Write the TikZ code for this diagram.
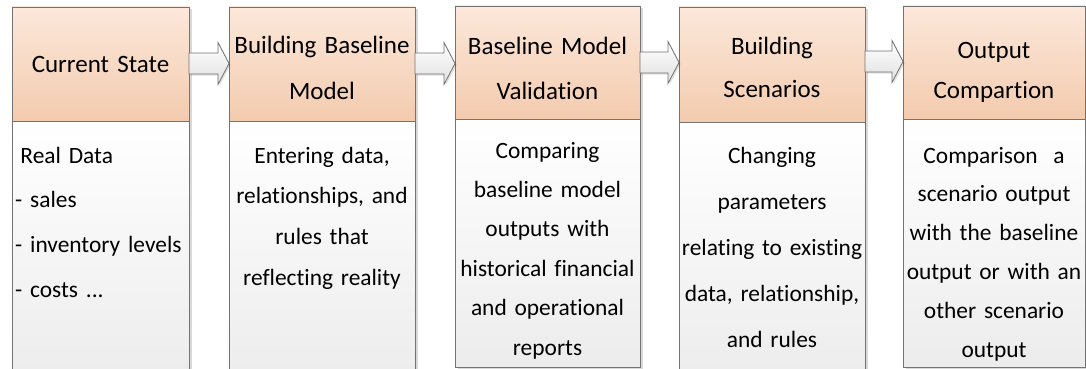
\documentclass[tikz,border=0pt]{standalone}
\usepackage{fontspec}
\setmainfont{Carlito}[Ligatures={NoCommon}, RawFeature={-liga;-clig;-dlig}]
\frenchspacing
\usetikzlibrary{calc,shadows}
\definecolor{hdrtop}{HTML}{FCE8DB}
\definecolor{hdrbot}{HTML}{F3CBAE}
\definecolor{bodbot}{HTML}{ECECEC}
\definecolor{edgegray}{HTML}{737373}
\definecolor{arrbot}{HTML}{E0E0E0}
\newcommand\blkarrow[3]{%
  \draw[blkarrow] ($(#1.east)+(0,#3-10.5)$) -| ($(#2.west|-#1.east)+(-11,#3-21)$)
    -- ($(#2.west|-#1.east)+(0,#3)$)
    -- ($(#2.west|-#1.east)+(-11,#3+21)$) |- ($(#1.east)+(0,#3+10.5)$) -- cycle;}
\begin{document}
\begin{tikzpicture}[x=1pt,y=-1pt,
  hdrbox/.style={draw=edgegray, line width=0.9pt, top color=hdrtop, bottom color=hdrbot,
    anchor=north west, outer sep=0pt, inner sep=0pt,
    drop shadow={shadow xshift=2.5pt, shadow yshift=-2pt, opacity=0.15, fill=black}},
  bodybox/.style={draw=edgegray, line width=0.9pt, top color=white, bottom color=bodbot,
    anchor=north west, outer sep=0pt, inner sep=0pt,
    drop shadow={shadow xshift=2.5pt, shadow yshift=-2pt, opacity=0.15, fill=black}},
  blkarrow/.style={draw=edgegray, line width=0.8pt, top color=white, bottom color=arrbot,
    line join=miter,
    drop shadow={shadow xshift=1.5pt, shadow yshift=-1.5pt, opacity=0.12, fill=black}},
  ttltext/.style={anchor=base, inner sep=0pt, align=center, text width=176pt, text=black},
  bodytext/.style={anchor=base, inner sep=0pt, align=center, text width=184pt, text=black},
]
\useasboundingbox (0,0) rectangle (1086,369);
\clip (0,0) rectangle (1086,369);

% header boxes
\node[hdrbox, minimum width=177pt, minimum height=114pt] (h1) at (12,7) {};
\node[hdrbox, minimum width=186pt, minimum height=114pt] (h2) at (229,7) {};
\node[hdrbox, minimum width=185pt, minimum height=113pt] (h3) at (455,6) {};
\node[hdrbox, minimum width=186pt, minimum height=115pt] (h4) at (679,7) {};
\node[hdrbox, minimum width=182pt, minimum height=113pt] (h5) at (903,6) {};

% body boxes
\node[bodybox, minimum width=177pt, minimum height=262pt] (d1) at (12,121) {};
\node[bodybox, minimum width=186pt, minimum height=262pt] (d2) at (229,121) {};
\node[bodybox, minimum width=185pt, minimum height=248pt] (d3) at (455,119) {};
\node[bodybox, minimum width=186pt, minimum height=262pt] (d4) at (679,122) {};
\node[bodybox, minimum width=182pt, minimum height=248pt] (d5) at (903,119) {};

% arrows
\blkarrow{h1}{h2}{-0.5}
\blkarrow{h2}{h3}{-0.5}
\blkarrow{h3}{h4}{0}
\blkarrow{h4}{h5}{-3}

% header texts
\node[ttltext, font=\fontsize{25}{47}\selectfont] (t1) at (100.5,73) {Current State};
\node[ttltext, font=\fontsize{25}{47}\selectfont] (t2) at (322,53) {Building Baseline\\Model};
\node[ttltext, font=\fontsize{25}{45}\selectfont] (t3) at (547.5,55) {Baseline Model\\Validation};
\node[ttltext, font=\fontsize{25}{43}\selectfont] (t4) at (772,55) {Building\\Scenarios};
\node[ttltext, font=\fontsize{25}{39.5}\selectfont] (t5) at (994,59) {Output\\Compartion};

% body texts
\node[anchor=base west, inner sep=0pt, align=left, text width=172pt,
  font=\fontsize{23.4}{44.7}\selectfont] (b1) at (15,163)
  {\hspace*{0.226em}Real Data\\- sales\\- inventory levels\\- costs ...};
\node[bodytext, font=\fontsize{23.4}{40.7}\selectfont] (b2) at (322,163)
  {Entering data,\\relationships, and\\rules that\\reflecting reality};
\node[bodytext, font=\fontsize{23.4}{39.4}\selectfont] (b3) at (547.5,158)
  {Comparing\\baseline model\\outputs with\\historical financial\\and operational\\reports};
\node[bodytext, font=\fontsize{23.4}{46}\selectfont] (b4) at (772,163)
  {Changing\\parameters\\relating to existing\\data, relationship,\\and rules};
\node[bodytext, font=\fontsize{23.4}{38.8}\selectfont] (b5) at (994,163)
  {Comparison\ \ a\\scenario output\\with the baseline\\output or with an\\other scenario\\output};
\end{tikzpicture}
\end{document}
